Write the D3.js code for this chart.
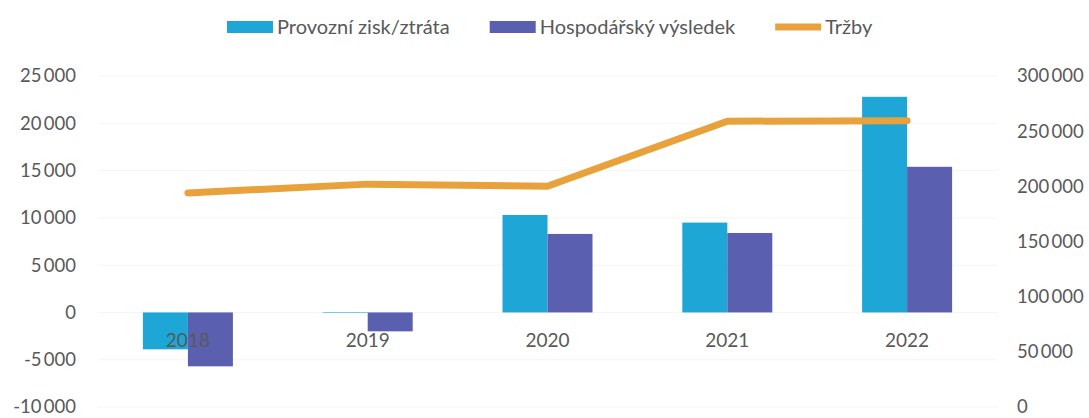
<!DOCTYPE html>
<html>
<head>
<meta charset="utf-8">
<script src="https://cdn.jsdelivr.net/npm/d3@7"></script>
<style>
  body { margin: 0; background: #fff; }
  svg { display: block; font-family: Lato, "Open Sans", sans-serif; }
</style>
</head>
<body>
<div id="chart"></div>
<script>
// data
let years = ['2018', '2019', '2020', '2021', '2022'];
let provozni = [-3900, -60, 10300, 9500, 22800];      // Provozní zisk/ztráta
let hospodarsky = [-5700, -2000, 8300, 8400, 15400];  // Hospodářský výsledek
let trzby = [194000, 202000, 200000, 259000, 259500]; // Tržby (right axis)
let leftTicks = [-10000, -5000, 0, 5000, 10000, 15000, 20000, 25000];
let rightTicks = [0, 50000, 100000, 150000, 200000, 250000, 300000];

let seriesNames = ['Provozní zisk/ztráta', 'Hospodářský výsledek', 'Tržby'];
let colors = ['#1ea6d6', '#5a5fb0', '#e9a23b'];

let W = 1089, H = 418;
let plot = { left: 98, right: 997, top: 76, bottom: 407 };

let svg = d3.select('#chart').append('svg')
    .attr('width', W)
    .attr('height', H);

let x = d3.scaleBand()
    .domain(years)
    .range([plot.left, plot.right]);

let x1 = d3.scaleBand()
    .domain([0, 1])
    .range([x.bandwidth() / 2 - 45, x.bandwidth() / 2 + 45]);

let yL = d3.scaleLinear().domain([-10000, 25000]).range([plot.bottom, plot.top]);
let yR = d3.scaleLinear().domain([0, 300000]).range([plot.bottom, plot.top]);

// "25 000" style, plain hyphen for negatives
let fmt = v => d3.format(',')(v).replace(/,/g, '\u2009').replace('\u2212', '-');

// faint gridlines
svg.append('g')
    .selectAll('line')
    .data(leftTicks)
    .join('line')
    .attr('x1', plot.left).attr('x2', plot.right)
    .attr('y1', d => yL(d)).attr('y2', d => yL(d))
    .attr('stroke', '#f5f5f5')
    .attr('stroke-width', 1);

// left axis
let axL = svg.append('g')
    .attr('transform', 'translate(' + 80 + ',0)')
    .call(d3.axisLeft(yL).tickValues(leftTicks).tickSize(0).tickPadding(4).tickFormat(fmt));
axL.select('.domain').remove();
axL.selectAll('text').attr('fill', '#595959').style('font-size', '18.5px').style('font-family', 'Lato, sans-serif');

// right axis
let axR = svg.append('g')
    .attr('transform', 'translate(' + 1013 + ',0)')
    .call(d3.axisRight(yR).tickValues(rightTicks).tickSize(0).tickPadding(4).tickFormat(fmt));
axR.select('.domain').remove();
axR.selectAll('text').attr('fill', '#595959').style('font-size', '18.5px').style('font-family', 'Lato, sans-serif');

// bars
let bars = svg.append('g');
[provozni, hospodarsky].forEach(function (vals, i) {
    bars.selectAll('rect.s' + i)
        .data(vals)
        .join('rect')
        .attr('class', 's' + i)
        .attr('x', (d, j) => x(years[j]) + x1(i))
        .attr('width', x1.bandwidth())
        .attr('y', d => yL(Math.max(0, d)))
        .attr('height', d => Math.max(0.6, Math.abs(yL(d) - yL(0))))
        .attr('fill', colors[i]);
});

// category axis at zero
let axX = svg.append('g')
    .attr('transform', 'translate(0,' + yL(0) + ')')
    .call(d3.axisBottom(x).tickSize(0).tickPadding(21));
axX.select('.domain').remove();
axX.selectAll('text').attr('fill', '#595959').style('font-size', '19px').style('font-family', 'Lato, sans-serif');

// line
let line = d3.line()
    .x((d, j) => x(years[j]) + x.bandwidth() / 2)
    .y(d => yR(d));
svg.append('path')
    .datum(trzby)
    .attr('d', line)
    .attr('fill', 'none')
    .attr('stroke', colors[2])
    .attr('stroke-width', 7)
    .attr('stroke-linecap', 'round')
    .attr('stroke-linejoin', 'round');

// legend
let leg = svg.append('g');
let lx = 227, ly = 27;
seriesNames.forEach(function (name, i) {
    if (i < 2) {
        leg.append('rect')
            .attr('x', lx).attr('y', ly - 6)
            .attr('width', 46).attr('height', 12)
            .attr('fill', colors[i]);
    } else {
        leg.append('line')
            .attr('x1', lx).attr('x2', lx + 46)
            .attr('y1', ly).attr('y2', ly)
            .attr('stroke', colors[i])
            .attr('stroke-width', 7);
    }
    let t = leg.append('text')
        .attr('x', lx + 50)
        .attr('y', ly)
        .attr('dy', '0.35em')
        .attr('fill', '#595959')
        .style('font-size', '20px')
        .text(name);
    lx = lx + 50 + t.node().getComputedTextLength() + 40;
});
</script>
</body>
</html>
